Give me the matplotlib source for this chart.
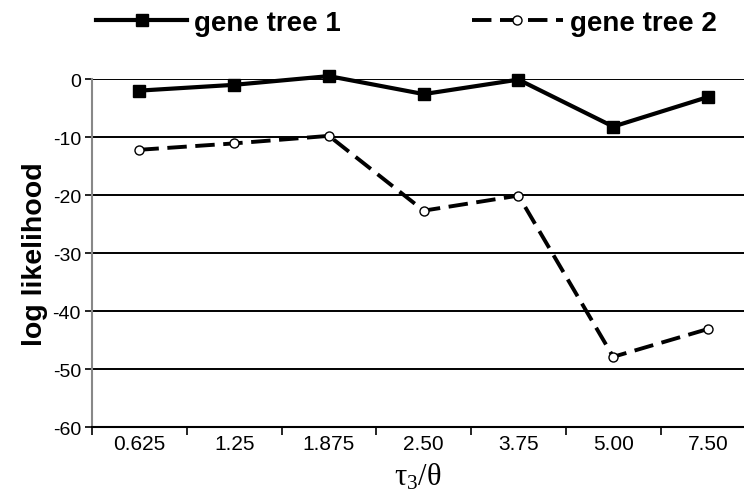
import matplotlib
matplotlib.use('Agg')
import matplotlib.pyplot as plt
import numpy as np

plt.rcParams['font.family'] = 'Liberation Sans'
plt.rcParams['mathtext.fontset'] = 'custom'
plt.rcParams['mathtext.rm'] = 'Liberation Serif'
plt.rcParams['mathtext.it'] = 'Liberation Serif'

# Data
categories = ['0.625', '1.25', '1.875', '2.50', '3.75', '5.00', '7.50']
gene_tree_1 = [-2.0, -1.0, 0.5, -2.6, -0.1, -8.2, -3.1]
gene_tree_2 = [-12.2, -11.1, -9.8, -22.7, -20.1, -47.9, -43.1]
y_ticks = [0, -10, -20, -30, -40, -50, -60]

x = np.arange(len(categories))

fig = plt.figure(figsize=(7.44, 5.02), dpi=100)
ax = fig.add_axes([0.1237, 0.1474, 0.8763, 0.6932])

# Horizontal grid lines
for yt in y_ticks:
    ax.axhline(yt, color='black', lw=1.4, zorder=1)

l1, = ax.plot(x, gene_tree_1, color='black', lw=3, marker='s', ms=9,
              label='gene tree 1', clip_on=False, zorder=3)
l2, = ax.plot(x, gene_tree_2, color='black', lw=2.8, dashes=(5, 2.2),
              marker='o', ms=6.5, mfc='white', mec='black', mew=1,
              label='gene tree 2', clip_on=False, zorder=3)

ax.set_ylim(-60, 0)
ax.set_xlim(-0.5, 6.38)
ax.set_yticks(y_ticks)
ax.set_yticklabels([str(v) for v in y_ticks], fontsize=14)

# category boundary ticks, labels at centres
ax.set_xticks(np.arange(-0.5, 6.0, 1.0))
ax.set_xticklabels([])
ax.set_xticks(x, minor=True)
ax.set_xticklabels(categories, minor=True, fontsize=15)
ax.tick_params(axis='x', which='major', length=6, width=1.2, direction='out')
ax.tick_params(axis='x', which='minor', length=0, pad=5)
ax.tick_params(axis='y', length=5, width=1.2, pad=3)

for s in ['top', 'right']:
    ax.spines[s].set_visible(False)
ax.spines['left'].set_color('#888888')
ax.spines['left'].set_linewidth(1.5)
ax.spines['bottom'].set_linewidth(1.5)

ax.set_ylabel('log likelihood', fontsize=20.5, fontweight='bold', labelpad=3)
ax.set_xlabel(r'$\mathrm{\tau_3/\theta}$', fontsize=22, labelpad=6)

leg = fig.legend(handles=[l1, l2], loc='upper left', bbox_to_anchor=(0.095, 1.028),
                 ncol=2, frameon=False, handlelength=3.3, handletextpad=0.25,
                 columnspacing=4.7, prop={'weight': 'bold', 'size': 20})

plt.savefig('out.png', dpi=100)
